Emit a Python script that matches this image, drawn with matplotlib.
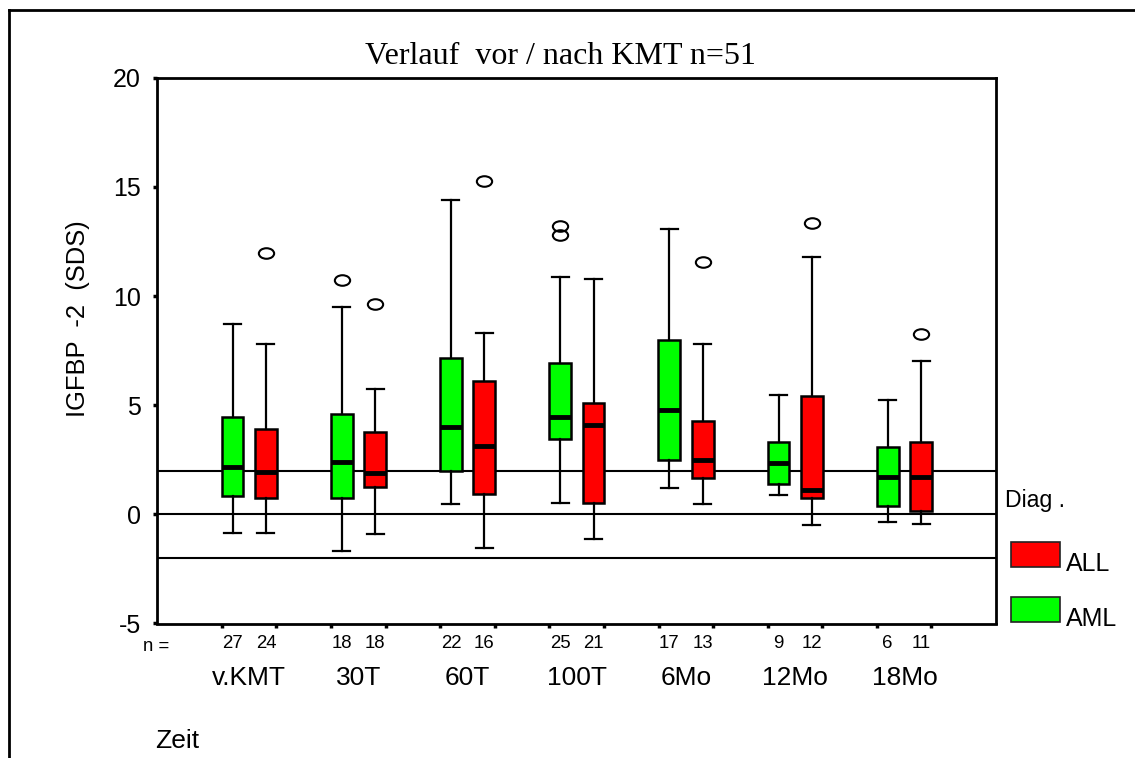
import matplotlib.pyplot as plt
from matplotlib.lines import Line2D
from matplotlib.patches import Rectangle
from matplotlib.path import Path
from matplotlib.transforms import Affine2D

zeit = ['v.KMT', '30T', '60T', '100T', '6Mo', '12Mo', '18Mo']

# AML (green)
aml_n = [27, 18, 22, 25, 17, 9, 6]
aml_whislo = [-0.84, -1.66, 0.47, 0.53, 1.22, 0.88, -0.37]
aml_q1 = [0.84, 0.76, 1.97, 3.45, 2.50, 1.40, 0.38]
aml_med = [2.17, 2.38, 4.02, 4.44, 4.79, 2.37, 1.69]
aml_q3 = [4.46, 4.58, 7.14, 6.94, 7.97, 3.30, 3.10]
aml_whishi = [8.73, 9.49, 14.38, 10.85, 13.08, 5.48, 5.22]
aml_fliers = [[], [10.74], [], [13.20, 12.78], [], [], []]

# ALL (red)
all_n = [24, 18, 16, 21, 13, 12, 11]
all_whislo = [-0.84, -0.92, -1.54, -1.13, 0.47, -0.50, -0.43]
all_q1 = [0.76, 1.25, 0.93, 0.50, 1.66, 0.76, 0.17]
all_med = [1.95, 1.89, 3.11, 4.09, 2.50, 1.13, 1.69]
all_q3 = [3.92, 3.75, 6.12, 5.08, 4.26, 5.42, 3.30]
all_whishi = [7.78, 5.76, 8.32, 10.79, 7.78, 11.81, 7.01]
all_fliers = [[11.97], [9.62], [15.26], [], [11.54], [13.35], [8.26]]

ref_lines = [2, 0, -2]

W, H = 1135, 758
plt.rcParams['font.family'] = ['Liberation Sans', 'DejaVu Sans']
plt.rcParams['axes.unicode_minus'] = False
fig = plt.figure(figsize=(W / 100, H / 100), dpi=100)
ax = fig.add_axes([157.3 / W, 1 - 623.5 / H, (995.7 - 157.3) / W, (623.5 - 77.7) / H])


def stats(whislo, q1, med, q3, whishi, fliers):
    return [dict(whislo=a, q1=b, med=c, q3=d, whishi=e, fliers=f)
            for a, b, c, d, e, f in zip(whislo, q1, med, q3, whishi, fliers)]


# ellipse marker like the SPSS "O"
oval = Path.unit_circle().transformed(Affine2D().scale(1.45, 1.0))

for st, col, off in [(stats(aml_whislo, aml_q1, aml_med, aml_q3, aml_whishi, aml_fliers), '#00ff00', -0.153),
                     (stats(all_whislo, all_q1, all_med, all_q3, all_whishi, all_fliers), '#ff0000', 0.153)]:
    pos = [i + off for i in range(len(zeit))]
    ax.bxp(st, positions=pos, widths=0.2, patch_artist=True, manage_ticks=False,
           capwidths=0.155,
           boxprops=dict(facecolor=col, edgecolor='black', linewidth=1.8),
           medianprops=dict(color='black', linewidth=3.5),
           whiskerprops=dict(color='black', linewidth=1.6),
           capprops=dict(color='black', linewidth=1.6),
           flierprops=dict(marker=oval, markersize=11, markerfacecolor='none',
                           markeredgecolor='black', markeredgewidth=1.5))

for r in ref_lines:
    ax.axhline(r, color='black', linewidth=1.5, zorder=0.5)

ax.set_xlim(-0.842, 6.836)
ax.set_ylim(-5, 20)
ax.set_yticks([-5, 0, 5, 10, 15, 20])
ax.set_xticks([-0.252 + 0.5 * k for k in range(14)])
ax.set_xticklabels([])
ax.tick_params(direction='out', length=3, width=2.5, labelsize=18, pad=9)
for s in ax.spines.values():
    s.set_linewidth(2)

# n counts and group labels
for i in range(len(zeit)):
    ax.text(i - 0.153, -5.9, str(aml_n[i]), ha='center', va='center', fontsize=13.4)
    ax.text(i + 0.153, -5.9, str(all_n[i]), ha='center', va='center', fontsize=13.4)
    ax.text(i, -7.5, zeit[i], ha='center', va='center', fontsize=19)
fig.text(156 / W, 1 - 646.5 / H, 'n =', ha='center', va='center', fontsize=13.4)
fig.text(155 / W, 1 - 741 / H, 'Zeit', ha='left', va='center', fontsize=19)

fig.text(78 / W, 1 - 319 / H, 'IGFBP  -2  (SDS)', rotation=90, ha='center', va='center', fontsize=18.4)
fig.text(560 / W, 1 - 56 / H, 'Verlauf  vor / nach KMT n=51', ha='center', va='center',
         fontsize=23, family='Liberation Serif')

# legend
fig.text(1005 / W, 1 - 500 / H, 'Diag .', ha='left', va='center', fontsize=16.7)
for y0, col, lab in [(542, '#ff0000', 'ALL'), (597, '#00ff00', 'AML')]:
    fig.add_artist(Rectangle((1011 / W, 1 - (y0 + 25) / H), 49 / W, 25 / H, facecolor=col,
                             edgecolor='#222222', linewidth=1.2, transform=fig.transFigure))
    fig.text(1066 / W, 1 - (y0 + 22) / H, lab, ha='left', va='center', fontsize=18)

# outer frame
fig.add_artist(Line2D([9 / W, 1], [1 - 10 / H] * 2, color='black', linewidth=2, transform=fig.transFigure))
fig.add_artist(Line2D([9 / W] * 2, [0, 1 - 10 / H], color='black', linewidth=2, transform=fig.transFigure))

fig.savefig('out.png', dpi=100)
